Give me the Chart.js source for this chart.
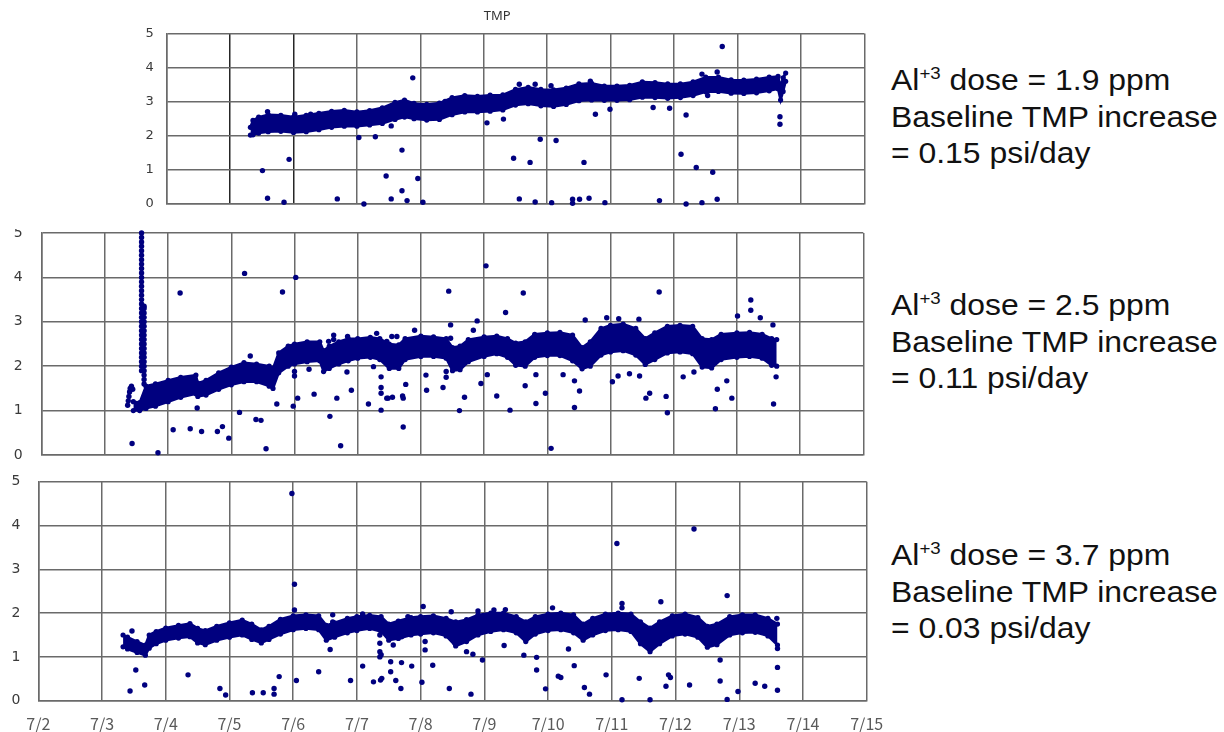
<!DOCTYPE html>
<html><head><meta charset="utf-8">
<script src="https://cdn.jsdelivr.net/npm/chart.js@4.4.1/dist/chart.umd.min.js"></script>
<style>
html,body{margin:0;padding:0;background:#fff;width:1224px;height:732px;overflow:hidden;}
canvas{position:absolute;}
.note{position:absolute;left:891px;font-family:"Liberation Sans",Arial,sans-serif;font-size:29px;line-height:36.5px;color:#111;white-space:nowrap;transform-origin:0 0;transform:scaleX(1.1);}
.sup{font-size:17px;position:relative;top:-11px;line-height:0;}
</style></head><body>
<canvas id="c1" width="740" height="212" style="left:130px;top:0px"></canvas>
<canvas id="c2" width="870" height="233" style="left:0px;top:229px"></canvas>
<canvas id="c3" width="890" height="262" style="left:0px;top:470px"></canvas>
<div id="n1" class="note" style="top:62px"></div>
<div id="n2" class="note" style="top:287px"></div>
<div id="n3" class="note" style="top:537px"></div>
<script>
// ---------- tick labels ----------
const xTickLabels = ['7/2','7/3','7/4','7/5','7/6','7/7','7/8','7/9','7/10','7/11','7/12','7/13','7/14','7/15'];
const yTickValues = [0,1,2,3,4,5];
const chartTitle = 'TMP';
const doses = ['1.9','2.5','3.7'];
const rates = ['0.15','0.11','0.03'];

// ---------- top panel (dose 1.9 ppm) : baseline band upper / lower edge ----------
const topTime = [5.32,5.36,5.45,5.6,5.8,6.0,6.2,6.4,6.6,6.8,7.0,7.2,7.4,7.6,7.75,7.9,8.1,8.3,8.5,8.7,8.9,9.1,9.3,9.5,9.7,9.9,10.1,10.3,10.5,10.7,10.9,11.1,11.3,11.5,11.7,11.9,12.1,12.3,12.5,12.7,12.9,13.1,13.3,13.5,13.64,13.68,13.72,13.76];
const topHigh = [2.25,2.45,2.55,2.62,2.60,2.55,2.60,2.66,2.72,2.75,2.70,2.74,2.82,2.98,3.05,2.95,2.92,2.96,3.12,3.18,3.16,3.19,3.20,3.36,3.42,3.36,3.35,3.40,3.52,3.54,3.46,3.46,3.48,3.58,3.56,3.52,3.52,3.58,3.72,3.72,3.64,3.63,3.66,3.72,3.74,3.45,3.70,3.84];
const topLow  = [2.02,2.03,2.08,2.12,2.13,2.10,2.12,2.18,2.25,2.28,2.28,2.32,2.36,2.48,2.55,2.50,2.46,2.48,2.62,2.70,2.70,2.72,2.76,2.90,2.94,2.88,2.86,2.92,3.03,3.05,3.04,3.04,3.06,3.13,3.12,3.10,3.12,3.18,3.29,3.30,3.25,3.24,3.26,3.32,3.38,3.05,3.30,3.60];
const topOutTime = [5.59,5.51,5.59,5.85,5.93,6.02,6.27,6.69,7.03,7.11,7.29,7.54,7.46,7.71,7.71,7.54,7.79,7.88,7.96,8.04,8.39,9.05,9.31,9.56,9.81,10.06,9.47,9.73,9.89,10.14,9.56,9.81,10.07,10.40,10.40,10.51,10.66,10.58,10.76,10.91,10.68,10.99,11.67,11.93,12.19,11.77,12.19,12.44,12.68,12.11,12.35,12.61,12.44,12.68,12.76,12.53,13.67,13.67];
const topOutValue = [2.71,0.98,0.17,0.05,1.31,2.63,2.63,0.15,1.95,0.0,1.97,2.29,0.82,1.58,0.39,0.15,0.10,3.70,0.75,0.05,3.01,2.38,2.49,3.51,3.51,3.47,1.34,1.22,1.90,1.86,0.15,0.06,0.04,0.14,0.02,0.14,0.17,1.22,2.63,0.04,3.60,2.78,2.83,2.81,2.61,0.10,0.0,0.04,0.14,1.46,1.07,0.93,3.81,3.87,4.62,3.18,2.56,2.34];

// ---------- middle panel (dose 2.5 ppm) ----------
const midTime = [3.45,3.55,3.65,3.8,4.0,4.2,4.44,4.47,4.6,4.8,5.0,5.2,5.4,5.6,5.66,5.75,5.9,6.0,6.2,6.4,6.46,6.55,6.7,6.85,7.0,7.2,7.35,7.5,7.65,7.75,8.0,8.2,8.4,8.5,8.62,8.75,9.0,9.2,9.37,9.5,9.65,9.8,10.0,10.2,10.4,10.55,10.68,10.85,11.0,11.2,11.4,11.55,11.7,11.9,12.1,12.3,12.45,12.6,12.75,13.0,13.2,13.4,13.55,13.63];
const midHigh = [1.20,1.18,1.55,1.60,1.68,1.75,1.80,1.62,1.68,1.85,1.98,2.08,2.05,2.00,1.95,2.30,2.45,2.50,2.55,2.55,2.35,2.45,2.55,2.62,2.62,2.65,2.62,2.50,2.48,2.62,2.68,2.66,2.62,2.42,2.45,2.60,2.66,2.68,2.62,2.52,2.55,2.72,2.75,2.76,2.70,2.42,2.55,2.85,2.92,2.95,2.85,2.62,2.75,2.90,2.92,2.90,2.62,2.60,2.72,2.75,2.76,2.72,2.62,2.60];
const midLow  = [1.00,1.00,1.05,1.10,1.20,1.30,1.38,1.32,1.35,1.48,1.58,1.65,1.65,1.55,1.50,1.85,2.00,2.05,2.10,2.12,1.88,1.95,2.05,2.12,2.18,2.20,2.15,1.95,1.95,2.15,2.22,2.22,2.18,1.90,1.92,2.10,2.22,2.28,2.20,2.02,2.00,2.20,2.24,2.24,2.12,1.94,2.00,2.25,2.32,2.35,2.25,2.04,2.15,2.30,2.32,2.28,1.98,1.96,2.15,2.20,2.22,2.18,2.02,2.00];
const midOutTime = [3.36,3.37,3.38,3.39,3.40,3.42,3.44,
  3.58,3.58,3.58,3.58,3.58,3.58,3.58,3.58,3.58,3.58,3.58,3.58,3.58,3.58,3.58,3.58,3.58,3.58,3.58,3.58,3.58,3.58,3.58,3.58,3.58,3.58,3.58,3.58,3.58,3.58,3.58,3.58,
  3.62,3.62,3.62,3.62,3.62,3.62,3.62,3.62,3.62,3.62,3.62,3.62,3.62,3.62,3.62,3.62,3.62,3.62,3.62,
  3.43,4.19,4.08,4.35,4.53,4.78,4.86,4.96,3.84,4.46,5.13,5.21,5.30,5.39,5.47,5.55,5.72,5.81,5.98,6.02,6.05,6.00,6.00,6.23,6.31,6.56,6.67,6.73,6.83,6.90,6.62,6.62,7.17,7.25,7.37,7.37,7.37,7.37,7.46,7.48,7.72,7.72,7.76,7.62,7.71,8.09,8.08,8.35,8.44,8.61,8.69,8.89,9.03,9.05,8.95,9.20,9.34,9.41,9.62,9.65,9.82,9.82,9.97,10.06,10.25,10.43,10.43,10.51,10.60,10.94,11.03,11.12,11.30,11.46,11.13,11.45,11.56,11.62,11.77,11.88,11.90,12.15,12.32,12.66,12.69,12.84,12.92,13.01,13.22,13.22,13.37,13.58,13.62,13.57,
  6.54,6.84,7.30,7.46,7.54,7.90,8.47,8.47,8.40,8.40,8.83,7.55];
const midOutValue = [1.12,1.22,1.32,1.42,1.50,1.55,1.48,
  5.00,4.90,4.80,4.70,4.60,4.50,4.40,4.30,4.20,4.10,4.00,3.90,3.80,3.70,3.60,3.50,3.40,3.30,3.20,3.10,3.00,2.90,2.80,2.70,2.60,2.50,2.40,2.30,2.20,2.10,2.00,1.90,
  3.35,3.30,3.20,3.10,3.00,2.90,2.80,2.70,2.60,2.50,2.40,2.30,2.20,2.10,2.00,1.90,1.80,1.70,1.60,
  0.26,3.65,0.57,0.59,0.53,0.53,0.64,0.38,0.05,1.06,0.96,4.09,2.23,0.80,0.78,0.14,1.15,3.67,1.10,4.00,1.28,1.78,1.88,1.93,1.37,0.87,1.28,0.21,1.87,1.46,2.60,2.70,1.15,1.99,1.76,1.52,1.39,1.01,1.28,1.28,1.28,0.63,1.59,2.67,1.33,1.46,1.80,1.52,3.69,1.00,1.30,3.02,4.26,1.81,1.61,1.33,3.21,1.01,3.65,1.56,1.16,1.81,1.39,0.15,1.81,1.67,1.07,1.44,3.04,3.09,1.65,1.78,1.83,1.78,3.07,3.06,1.28,1.39,3.67,1.32,0.95,1.76,1.87,1.04,1.48,1.67,1.28,3.13,3.49,3.26,3.09,1.15,1.76,2.93,
  2.56,2.67,2.74,2.56,2.67,2.81,2.63,2.93,1.75,1.88,2.81,1.30];

// ---------- bottom panel (dose 3.7 ppm) ----------
const botTime = [3.33,3.4,3.55,3.68,3.74,3.85,4.0,4.2,4.38,4.5,4.62,4.8,5.0,5.2,5.35,5.5,5.62,5.8,6.0,6.2,6.4,6.52,6.65,6.85,7.0,7.2,7.38,7.5,7.65,7.85,8.0,8.2,8.4,8.55,8.72,8.9,9.1,9.3,9.5,9.65,9.8,10.0,10.2,10.4,10.55,10.7,10.9,11.1,11.3,11.45,11.6,11.75,11.95,12.15,12.35,12.5,12.65,12.85,13.05,13.25,13.45,13.6];
const botHigh = [1.50,1.45,1.35,1.27,1.50,1.58,1.66,1.72,1.76,1.65,1.60,1.70,1.78,1.84,1.75,1.62,1.70,1.86,1.94,1.96,1.94,1.72,1.78,1.88,1.92,1.95,1.92,1.75,1.82,1.90,1.92,1.94,1.88,1.80,1.85,1.96,2.00,2.00,1.92,1.80,1.92,1.98,2.00,1.96,1.75,1.88,1.98,2.00,1.98,1.80,1.66,1.80,1.94,1.98,1.90,1.70,1.75,1.92,1.96,1.96,1.88,1.75];
const botLow  = [1.23,1.18,1.10,1.04,1.20,1.30,1.38,1.43,1.46,1.32,1.28,1.38,1.45,1.50,1.40,1.32,1.40,1.52,1.62,1.65,1.62,1.38,1.45,1.55,1.60,1.65,1.58,1.38,1.42,1.50,1.52,1.55,1.48,1.25,1.35,1.50,1.58,1.62,1.55,1.35,1.52,1.60,1.62,1.55,1.38,1.50,1.60,1.62,1.58,1.30,1.12,1.30,1.48,1.52,1.45,1.22,1.28,1.50,1.55,1.56,1.48,1.27];
const botOutTime = [3.44,3.47,3.53,3.67,4.35,4.85,4.94,5.36,5.53,5.70,5.70,5.78,5.98,6.02,6.02,6.05,6.40,6.58,6.62,6.62,6.90,7.09,7.09,7.26,7.37,7.39,7.36,7.36,7.36,7.36,7.38,7.53,7.53,7.61,7.69,7.70,7.86,7.80,8.02,8.04,8.19,8.45,8.79,8.97,8.90,9.31,9.62,9.82,9.82,9.96,10.07,10.16,10.20,10.32,10.41,10.57,10.65,10.91,11.08,11.16,11.16,11.16,11.43,11.60,11.77,11.85,11.89,11.92,12.22,12.29,12.70,12.70,12.81,12.81,12.98,13.25,13.40,13.60,13.60,13.59,13.60,
  7.57,7.70,8.07,8.07,8.54,8.72,8.82,8.48,9.15,9.33];
const botOutValue = [0.22,1.59,0.70,0.36,0.59,0.28,0.13,0.18,0.18,0.28,0.15,0.55,4.73,2.66,2.07,0.46,0.66,1.17,1.96,1.80,0.46,0.79,1.98,0.43,0.47,0.51,1.50,1.31,1.12,1.00,1.05,0.66,0.89,0.46,0.28,0.87,0.79,1.92,0.42,2.15,0.81,0.28,0.15,0.93,2.05,1.26,1.04,0.70,0.99,0.27,2.12,0.56,0.53,1.18,0.80,0.30,0.15,0.59,3.59,2.22,2.12,0.02,0.51,0.02,2.26,0.33,0.59,0.53,0.36,3.92,0.45,0.93,2.40,0.03,0.21,0.40,0.33,0.24,0.76,1.88,1.19,
  1.27,1.46,1.35,1.16,1.31,1.12,1.06,2.03,2.07,2.08];

// ---------- rendering ----------
const NAVY = '#00007f';
const GRID = '#6a6a6a';
const pts = (ts, vs) => ts.map((t, i) => ({x: t, y: vs[i]}));

function panel(id, o) {
  const ds = [
    {data: pts(o.t, o.hi), borderColor: NAVY, backgroundColor: NAVY, borderWidth: 2.5, pointRadius: 2.6,
     pointBackgroundColor: NAVY, pointBorderWidth: 0, fill: '+1', tension: 0},
    {data: pts(o.t, o.lo), borderColor: NAVY, backgroundColor: NAVY, borderWidth: 2.5, pointRadius: 2.6,
     pointBackgroundColor: NAVY, pointBorderWidth: 0, fill: false, tension: 0},
    {data: pts(o.ot, o.ov), showLine: false, pointRadius: 2.7, pointBackgroundColor: NAVY,
     pointBorderWidth: 0, borderColor: NAVY, fill: false, clip: false}
  ];
  new Chart(document.getElementById(id), {
    type: 'line',
    data: {datasets: ds},
    options: {
      responsive: false, animation: false, devicePixelRatio: 1,
      layout: {padding: o.pad},
      plugins: {
        legend: {display: false}, tooltip: {enabled: false},
        title: o.title ? {display: true, text: o.title, color: '#333',
          font: {family: 'Noto Sans', size: 13, weight: 'normal', lineHeight: 1.1}, padding: {top: 9.2, bottom: 10}} : {display: false}
      },
      scales: {
        x: {type: 'linear', min: o.xmin, max: 15,
          grid: {color: o.gridColor || GRID, lineWidth: 1.5, drawTicks: false},
          border: {color: GRID, width: 1.5},
          ticks: {display: o.xlabels, stepSize: 1, autoSkip: false, maxRotation: 0, padding: 14,
            color: '#5a5a5a', font: {family: 'Noto Sans CJK JP', size: 16},
            callback: v => xTickLabels[v - 2]},
          afterFit: s => { s.height = o.xh; s.paddingLeft = 0; s.paddingRight = 0; }
        },
        y: {min: 0, max: 5,
          grid: {color: GRID, lineWidth: 1.5, drawTicks: false},
          border: {color: GRID, width: 1.5},
          ticks: {stepSize: 1, padding: o.ypad, color: '#3a3a3a',
            font: {family: 'DejaVu Sans', size: o.yfont},
            callback: v => yTickValues.includes(v) ? String(v) : ''},
          afterFit: s => { s.width = o.yw; s.paddingTop = 0; s.paddingBottom = 0; }
        }
      }
    }
  });
}

panel('c1', {t: topTime, hi: topHigh, lo: topLow, ot: topOutTime, ov: topOutValue,
  xmin: 4, title: chartTitle, xlabels: false, xh: 8, yw: 36.7, ypad: 13, yfont: 13,
  pad: {left: 0, right: 5.7, top: 0, bottom: 0},
  gridColor: c => (c.tick && (c.tick.value === 5 || c.tick.value === 6)) ? '#262626' : GRID});
panel('c2', {t: midTime, hi: midHigh, lo: midLow, ot: midOutTime, ov: midOutValue,
  xmin: 2, xlabels: false, xh: 7, yw: 41.7, ypad: 19, yfont: 14,
  pad: {left: 0, right: 6.7, top: 1, bottom: 0}});
panel('c3', {t: botTime, hi: botHigh, lo: botLow, ot: botOutTime, ov: botOutValue,
  xmin: 2, xlabels: true, xh: 31.3, yw: 38.3, ypad: 18, yfont: 14,
  pad: {left: 0, right: 23.3, top: 11.7, bottom: 0}});

['n1','n2','n3'].forEach((id, i) => {
  document.getElementById(id).innerHTML =
    'Al<span class="sup">+3</span> dose = ' + doses[i] + ' ppm<br>Baseline TMP increase<br>= ' + rates[i] + ' psi/day';
});
</script>
</body></html>
